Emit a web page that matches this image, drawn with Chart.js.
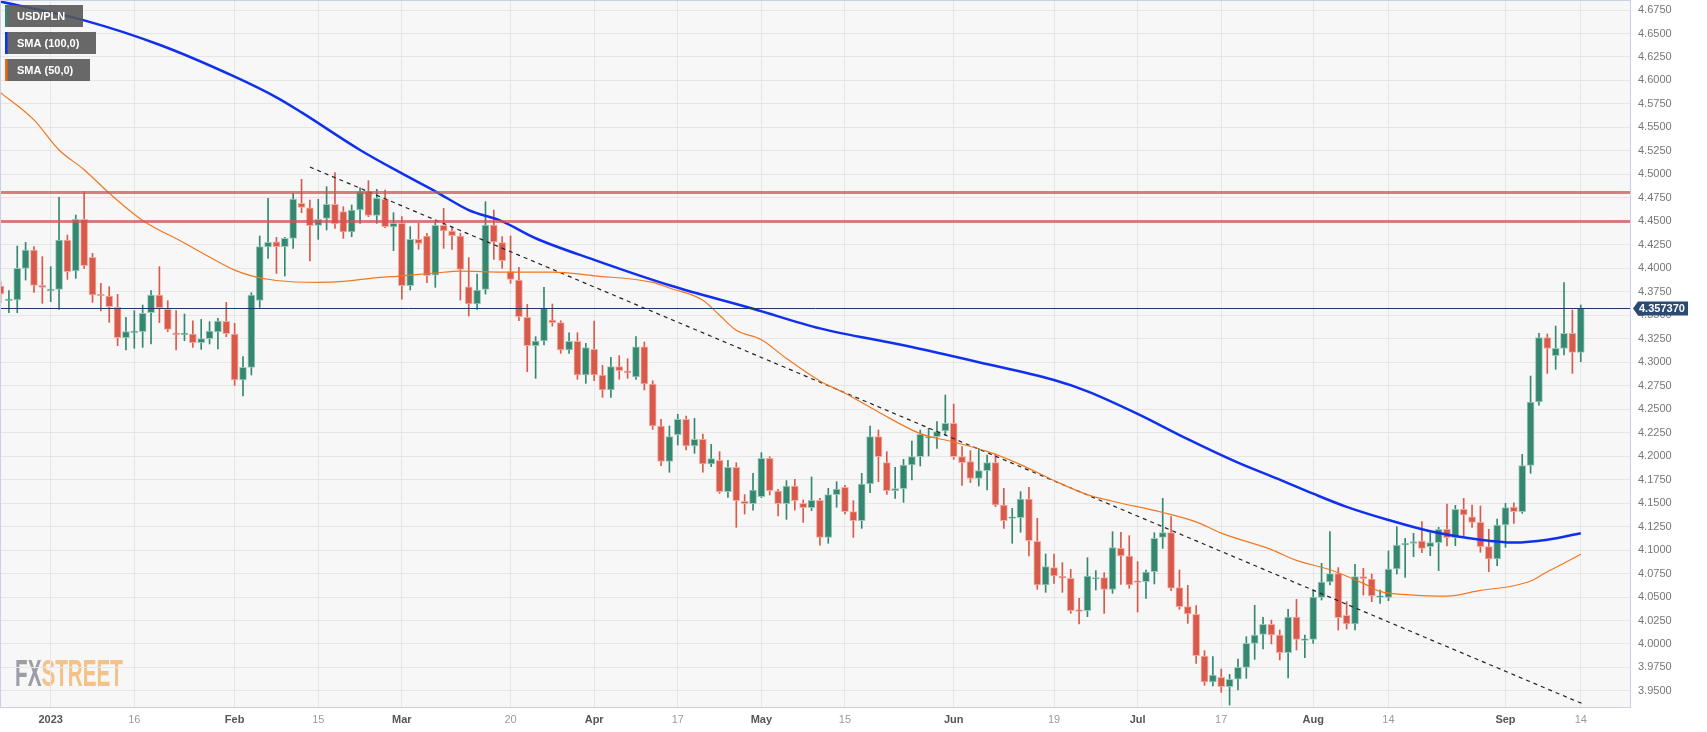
<!DOCTYPE html>
<html>
<head>
<meta charset="utf-8">
<title>USD/PLN</title>
<script src="https://cdn.jsdelivr.net/npm/chart.js@4.4.0/dist/chart.umd.min.js"></script>
<style>
  html, body { margin: 0; padding: 0; background: #fff; }
  #wrap { width: 1707px; height: 732px; }
</style>
</head>
<body>
<div id="wrap"><canvas id="chart" width="1707" height="732"></canvas></div>
<script>
/* USD/PLN daily candles, index 0 = Fri 23 Dec 2022 ... index 189 = Thu 14 Sep 2023 */

const open = [
  4.3811, 4.3655, 4.3662, 4.3999, 4.4195, 4.3819, 4.3762, 4.3776, 4.4301, 4.3971,
  4.4521, 4.4117, 4.3723, 4.3705, 4.3584, 4.3261, 4.3315, 4.3325, 4.3527, 4.3716,
  4.3563, 4.3304, 4.3293, 4.3300, 4.3208, 4.3251, 4.3322, 4.3435, 4.3300, 4.2811,
  4.2945, 4.3659, 4.4227, 4.4283, 4.4230, 4.4319, 4.4692, 4.4645, 4.4457, 4.4532,
  4.4681, 4.4603, 4.4386, 4.4621, 4.4816, 4.4564, 4.4734, 4.4440, 4.4479, 4.3815,
  4.4308, 4.4344, 4.3928, 4.4457, 4.4397, 4.4344, 4.3804, 4.3620, 4.3776, 4.4461,
  4.4273, 4.3964, 4.3875, 4.3478, 4.3176, 4.3226, 4.3449, 4.3421, 4.3130, 4.3222,
  4.2864, 4.3137, 4.2864, 4.2704, 4.2953, 4.2906, 4.2843, 4.3165, 4.2768, 4.2321,
  4.1945, 4.2228, 4.2392, 4.2108, 4.2179, 4.1916, 4.1955, 4.1622, 4.1881, 4.1519,
  4.1494, 4.1568, 4.1977, 4.1629, 4.1494, 4.1682, 4.1497, 4.1451, 4.1529, 4.1135,
  4.1590, 4.1668, 4.1409, 4.1313, 4.1703, 4.2207, 4.1931, 4.1632, 4.1654, 4.1906,
  4.1994, 4.2193, 4.2207, 4.2268, 4.2349, 4.1994, 4.1941, 4.1764, 4.1845, 4.1931,
  4.1480, 4.1338, 4.1345, 4.1544, 4.1093, 4.0628, 4.0813, 4.0713, 4.0699, 4.0355,
  4.0355, 4.0692, 4.0706, 4.0582, 4.1018, 4.0937, 4.0663, 4.0663, 4.0770, 4.1135,
  4.1185, 4.0600, 4.0397, 4.0316, 3.9872, 3.9595, 3.9645, 3.9546, 3.9624, 3.9751,
  4.0007, 4.0103, 4.0209, 4.0096, 3.9908, 4.0287, 4.0039, 4.0049, 4.0497, 4.0660,
  4.0749, 4.0305, 4.0213, 4.0717, 4.0692, 4.0497, 4.0497, 4.0798, 4.1054, 4.1072,
  4.1096, 4.1036, 4.1079, 4.1221, 4.1132, 4.1434, 4.1355, 4.1295, 4.1036, 4.0905,
  4.1267, 4.1458, 4.1409, 4.1902, 4.2576, 4.3261, 4.3070, 4.3148, 4.3307, 4.3105
];
const high = [
  4.3858, 4.3762, 4.4237, 4.4276, 4.4230, 4.4124, 4.4017, 4.4755, 4.4354, 4.4567,
  4.4816, 4.4159, 4.3840, 4.3804, 4.3723, 4.3478, 4.3549, 4.3609, 4.3762, 4.4017,
  4.3655, 4.3549, 4.3513, 4.3442, 4.3456, 4.3432, 4.3467, 4.3637, 4.3414, 4.3059,
  4.3740, 4.4344, 4.4745, 4.4330, 4.4330, 4.4798, 4.4947, 4.4727, 4.4734, 4.4869,
  4.5018, 4.4656, 4.4674, 4.4858, 4.4933, 4.4841, 4.4833, 4.4592, 4.4550, 4.4443,
  4.4479, 4.4372, 4.4503, 4.4638, 4.4432, 4.4372, 4.4113, 4.3939, 4.4709, 4.4621,
  4.4337, 4.4344, 4.4010, 4.3616, 4.3272, 4.3797, 4.3620, 4.3442, 4.3314, 4.3314,
  4.3201, 4.3439, 4.2967, 4.3052, 4.3070, 4.3038, 4.3272, 4.3215, 4.2803, 4.2392,
  4.2321, 4.2445, 4.2427, 4.2402, 4.2236, 4.2126, 4.2048, 4.1955, 4.1930, 4.1590,
  4.1817, 4.2037, 4.1994, 4.1646, 4.1739, 4.1753, 4.1533, 4.1778, 4.1551, 4.1657,
  4.1728, 4.1689, 4.1526, 4.1817, 4.2321, 4.2278, 4.2048, 4.1881, 4.1966, 4.2161,
  4.2278, 4.2296, 4.2367, 4.2651, 4.2555, 4.2101, 4.2058, 4.2083, 4.2012, 4.2023,
  4.1657, 4.1444, 4.1622, 4.1668, 4.1338, 4.0958, 4.0958, 4.0866, 4.0795, 4.0486,
  4.0919, 4.0781, 4.0759, 4.1196, 4.1189, 4.1153, 4.0876, 4.0788, 4.1185, 4.1551,
  4.1356, 4.0788, 4.0624, 4.0408, 3.9929, 3.9865, 3.9734, 3.9677, 3.9840, 4.0078,
  4.0412, 4.0284, 4.0255, 4.0149, 4.0369, 4.0475, 4.0096, 4.0575, 4.0859, 4.1196,
  4.0813, 4.0450, 4.0848, 4.0805, 4.0745, 4.0575, 4.0990, 4.1249, 4.1125, 4.1178,
  4.1302, 4.1185, 4.1242, 4.1490, 4.1476, 4.1551, 4.1480, 4.1469, 4.1221, 4.1331,
  4.1497, 4.1504, 4.2019, 4.2853, 4.3307, 4.3300, 4.3385, 4.3847, 4.3556, 4.3609
];
const low = [
  4.3634, 4.3527, 4.3527, 4.3875, 4.3744, 4.3627, 4.3645, 4.3563, 4.3882, 4.3893,
  4.3999, 4.3637, 4.3545, 4.3425, 4.3176, 4.3130, 4.3148, 4.3158, 4.3194, 4.3421,
  4.3325, 4.3130, 4.3229, 4.3158, 4.3137, 4.3194, 4.3141, 4.3272, 4.2754, 4.2640,
  4.2864, 4.3584, 4.4106, 4.3946, 4.3918, 4.4212, 4.4592, 4.4078, 4.4308, 4.4408,
  4.4425, 4.4319, 4.4337, 4.4479, 4.4550, 4.4479, 4.4432, 4.4188, 4.3670, 4.3769,
  4.4202, 4.3847, 4.3797, 4.4212, 4.4202, 4.3662, 4.3492, 4.3563, 4.3726, 4.4095,
  4.3999, 4.3840, 4.3442, 4.2899, 4.2828, 4.3183, 4.3385, 4.3094, 4.3094, 4.2818,
  4.2775, 4.2803, 4.2626, 4.2626, 4.2818, 4.2828, 4.2818, 4.2704, 4.2285, 4.1898,
  4.1828, 4.2118, 4.2065, 4.2030, 4.1828, 4.1888, 4.1604, 4.1561, 4.1242, 4.1384,
  4.1426, 4.1558, 4.1586, 4.1363, 4.1327, 4.1426, 4.1295, 4.1419, 4.1053, 4.1072,
  4.1455, 4.1384, 4.1135, 4.1231, 4.1611, 4.1728, 4.1593, 4.1551, 4.1508, 4.1746,
  4.1895, 4.2002, 4.2083, 4.2225, 4.1966, 4.1689, 4.1718, 4.1682, 4.1640, 4.1462,
  4.1231, 4.1072, 4.1189, 4.0937, 4.0582, 4.0550, 4.0646, 4.0550, 4.0326, 4.0213,
  4.0291, 4.0575, 4.0326, 4.0539, 4.0635, 4.0593, 4.0340, 4.0486, 4.0639, 4.1018,
  4.0568, 4.0369, 4.0220, 3.9794, 3.9560, 3.9553, 3.9485, 3.9350, 3.9510, 3.9634,
  3.9837, 3.9947, 4.0000, 3.9830, 3.9638, 3.9936, 3.9854, 4.0007, 4.0468, 4.0628,
  4.0149, 4.0160, 4.0149, 4.0521, 4.0451, 4.0433, 4.0461, 4.0745, 4.0709, 4.0930,
  4.0972, 4.0940, 4.0781, 4.1043, 4.1047, 4.1143, 4.1242, 4.0976, 4.0770, 4.0834,
  4.1029, 4.1284, 4.1391, 4.1817, 4.2544, 4.2881, 4.2924, 4.3077, 4.2881, 4.3006
];
const close = [
  4.3726, 4.3670, 4.3999, 4.4195, 4.3819, 4.3797, 4.3772, 4.4301, 4.3964, 4.4521,
  4.4028, 4.3716, 4.3708, 4.3591, 4.3261, 4.3325, 4.3325, 4.3520, 4.3716, 4.3581,
  4.3350, 4.3293, 4.3304, 4.3208, 4.3251, 4.3332, 4.3439, 4.3304, 4.2811, 4.2945,
  4.3716, 4.4230, 4.4276, 4.4230, 4.4319, 4.4738, 4.4649, 4.4454, 4.4521, 4.4681,
  4.4472, 4.4386, 4.4621, 4.4816, 4.4564, 4.4745, 4.4443, 4.4479, 4.3815, 4.4308,
  4.4266, 4.3921, 4.4457, 4.4397, 4.4347, 4.3989, 4.3620, 4.3769, 4.4461, 4.4280,
  4.4081, 4.3882, 4.3485, 4.3176, 4.3226, 4.3574, 4.3421, 4.3130, 4.3222, 4.2864,
  4.3155, 4.2864, 4.2704, 4.2953, 4.2910, 4.2889, 4.3165, 4.2768, 4.2321, 4.1945,
  4.2207, 4.2392, 4.2108, 4.2179, 4.1916, 4.1973, 4.1622, 4.1881, 4.1526, 4.1494,
  4.1639, 4.1977, 4.1632, 4.1494, 4.1682, 4.1526, 4.1451, 4.1529, 4.1135, 4.1590,
  4.1650, 4.1409, 4.1313, 4.1703, 4.2207, 4.1994, 4.1632, 4.1654, 4.1906, 4.1994,
  4.2232, 4.2207, 4.2261, 4.2349, 4.1994, 4.1931, 4.1764, 4.1845, 4.1931, 4.1480,
  4.1313, 4.1345, 4.1544, 4.1100, 4.0628, 4.0823, 4.0724, 4.0703, 4.0355, 4.0348,
  4.0724, 4.0703, 4.0582, 4.1026, 4.0937, 4.0628, 4.0656, 4.0766, 4.1125, 4.1185,
  4.0593, 4.0397, 4.0319, 3.9876, 3.9595, 3.9670, 3.9546, 3.9624, 3.9751, 4.0007,
  4.0096, 4.0209, 4.0096, 3.9908, 4.0287, 4.0049, 4.0046, 4.0500, 4.0660, 4.0749,
  4.0280, 4.0213, 4.0717, 4.0695, 4.0511, 4.0511, 4.0798, 4.1054, 4.1072, 4.1089,
  4.1018, 4.1079, 4.1221, 4.1132, 4.1434, 4.1373, 4.1295, 4.1036, 4.0905, 4.1267,
  4.1451, 4.1409, 4.1899, 4.2576, 4.3261, 4.3148, 4.3148, 4.3307, 4.3105, 4.35737
];

/* moving averages at these day indices */
const sma100Idx = [0, 10, 19, 28, 33, 36, 43, 48, 52, 56, 60, 64, 71, 80, 90, 98, 108, 117, 126, 130, 136, 142, 148, 153, 157, 161, 166, 171, 177, 181, 185, 189];
const sma100 = [4.684, 4.664, 4.638, 4.604, 4.582, 4.566, 4.526, 4.501, 4.482, 4.462, 4.450, 4.432, 4.409, 4.382, 4.357, 4.336, 4.318, 4.300, 4.281, 4.269, 4.245, 4.218, 4.193, 4.175, 4.160, 4.146, 4.132, 4.120, 4.111, 4.108, 4.111, 4.118];

const sma50Idx = [0, 4, 7, 10, 13, 17, 22, 25, 28, 30, 33, 38, 41, 44, 48, 52, 55, 60, 66, 71, 78, 80, 84, 86, 88, 91, 94, 98, 101, 105, 110, 114, 118, 122, 126, 130, 133, 139, 143, 146, 152, 155, 159, 163, 165, 169, 173, 177, 181, 183, 185, 187, 189];
const sma50 = [4.587, 4.558, 4.526, 4.505, 4.480, 4.451, 4.427, 4.412, 4.398, 4.392, 4.387, 4.385, 4.386, 4.389, 4.392, 4.395, 4.397, 4.396, 4.396, 4.392, 4.385, 4.379, 4.366, 4.350, 4.334, 4.324, 4.304, 4.280, 4.267, 4.247, 4.224, 4.215, 4.205, 4.191, 4.174, 4.159, 4.152, 4.140, 4.130, 4.118, 4.1005, 4.089, 4.079, 4.0645, 4.056, 4.052, 4.051, 4.057, 4.062, 4.067, 4.077, 4.086, 4.0955];

const trendIdx = [37, 189.3];
const trendVal = [4.5078, 3.936];

const levels = [4.4815, 4.45];
const lastPrice = 4.35737;

const tickIdx = [6, 16, 28, 38, 48, 61, 71, 81, 91, 101, 114, 126, 136, 146, 157, 166, 180, 189];
const tickLabels = ["2023", "16", "Feb", "15", "Mar", "20", "Apr", "17", "May", "15", "Jun", "19", "Jul", "17", "Aug", "14", "Sep", "14"];
const tickBold = [true, false, true, false, true, false, true, false, true, false, true, false, true, false, true, false, true, false];

const yTicks = [3.95, 3.975, 4.0, 4.025, 4.05, 4.075, 4.1, 4.125, 4.15, 4.175, 4.2, 4.225, 4.25, 4.275, 4.3,
  4.325, 4.35, 4.375, 4.4, 4.425, 4.45, 4.475, 4.5, 4.525, 4.55, 4.575, 4.6, 4.625, 4.65, 4.675];

const UP = '#35876f', DOWN = '#d85a4a';
const UP_EDGE = 'rgba(150,200,185,0.95)', DOWN_EDGE = 'rgba(244,170,160,0.95)';
const FONT = "'Liberation Sans', Arial, sans-serif";

const isUp = open.map((o, i) => close[i] >= o);
const wicks = open.map((o, i) => ({ x: i, y: [low[i], high[i]] }));
const bodies = open.map((o, i) => ({ x: i, y: [o, close[i]] }));

const boldTick = c => {
  if (!c || !c.tick) return false;
  const k = tickIdx.indexOf(c.tick.value);
  return k >= 0 && tickBold[k];
};

const chartBack = {
  id: 'chartBack',
  beforeDraw(chart) {
    const { ctx, chartArea: a } = chart;
    ctx.save();
    ctx.fillStyle = '#ffffff';
    ctx.fillRect(0, 0, chart.width, chart.height);
    ctx.fillStyle = '#f7f7f7';
    ctx.fillRect(a.left, a.top, a.right - a.left, a.bottom - a.top);

    // watermark
    ctx.font = 'bold 36px ' + FONT;
    const wFX = ctx.measureText('FX').width;
    const wAll = ctx.measureText('FXSTREET').width;
    ctx.translate(15, 686);
    ctx.scale(108 / wAll, 1);
    ctx.textBaseline = 'alphabetic';
    ctx.fillStyle = '#9c9ea6';
    ctx.fillText('FX', 0, 0);
    ctx.fillStyle = '#f2c288';
    ctx.fillText('STREET', wFX, 0);
    ctx.restore();
  }
};

const levelLines = {
  id: 'levelLines',
  afterDatasetsDraw(chart) {
    const { ctx, chartArea: a, scales: { y } } = chart;
    ctx.save();
    ctx.strokeStyle = 'rgba(205,85,85,0.75)';
    ctx.lineWidth = 3;
    levels.forEach(v => {
      const py = Math.round(y.getPixelForValue(v)) + 0.5;
      ctx.beginPath();
      ctx.moveTo(a.left, py);
      ctx.lineTo(a.right, py);
      ctx.stroke();
    });
    const pp = Math.round(y.getPixelForValue(lastPrice)) + 0.5;
    ctx.strokeStyle = '#1f3a60';
    ctx.lineWidth = 1;
    ctx.beginPath();
    ctx.moveTo(a.left, pp);
    ctx.lineTo(a.right, pp);
    ctx.stroke();
    ctx.restore();
  }
};

const decorations = {
  id: 'decorations',
  afterDraw(chart) {
    const { ctx, chartArea: a, scales: { y } } = chart;
    ctx.save();
    // frame
    ctx.strokeStyle = '#c9d1e3';
    ctx.lineWidth = 1;
    ctx.strokeRect(a.left - 0.5, a.top - 0.5, a.right - a.left + 1, a.bottom - a.top + 1);

    // last price tag
    const pp = Math.round(y.getPixelForValue(lastPrice)) + 0.5;
    ctx.fillStyle = '#2b4a72';
    ctx.beginPath();
    ctx.moveTo(a.right + 3, pp);
    ctx.lineTo(a.right + 8, pp - 7);
    ctx.lineTo(a.right + 58, pp - 7);
    ctx.lineTo(a.right + 58, pp + 7);
    ctx.lineTo(a.right + 8, pp + 7);
    ctx.closePath();
    ctx.fill();
    ctx.fillStyle = '#ffffff';
    ctx.font = 'bold 11px ' + FONT;
    ctx.textBaseline = 'middle';
    ctx.fillText(lastPrice.toFixed(6), a.right + 9, pp + 0.5);

    // legend boxes
    const items = [
      { text: 'USD/PLN', color: UP, w: 78 },
      { text: 'SMA (100,0)', color: '#1030f0', w: 91 },
      { text: 'SMA (50,0)', color: '#ee6a10', w: 85 }
    ];
    items.forEach((it, k) => {
      const top = 5 + k * 27;
      ctx.fillStyle = 'rgba(88,88,88,0.9)';
      ctx.fillRect(5, top, it.w, 22);
      ctx.fillStyle = it.color;
      ctx.fillRect(5, top, 2.5, 22);
      ctx.fillStyle = '#ffffff';
      ctx.font = 'bold 11px ' + FONT;
      ctx.textBaseline = 'middle';
      ctx.fillText(it.text, 17, top + 11.5);
    });
    ctx.restore();
  }
};

new Chart(document.getElementById('chart'), {
  data: {
    datasets: [
      {
        type: 'line',
        label: 'SMA (100,0)',
        data: sma100Idx.map((d, k) => ({ x: d, y: sma100[k] })),
        borderColor: '#1030f0',
        borderWidth: 2.5,
        pointRadius: 0,
        cubicInterpolationMode: 'monotone',
        order: 0
      },
      {
        type: 'line',
        label: 'SMA (50,0)',
        data: sma50Idx.map((d, k) => ({ x: d, y: sma50[k] })),
        borderColor: '#f07820',
        borderWidth: 1.2,
        pointRadius: 0,
        cubicInterpolationMode: 'monotone',
        order: 0
      },
      {
        type: 'line',
        label: 'trend',
        data: trendIdx.map((d, k) => ({ x: d, y: trendVal[k] })),
        borderColor: '#222222',
        borderWidth: 1.2,
        borderDash: [4, 4],
        pointRadius: 0,
        order: 0
      },
      {
        type: 'bar',
        label: 'body',
        data: bodies,
        backgroundColor: isUp.map(u => u ? UP : DOWN),
        borderColor: isUp.map(u => u ? UP_EDGE : DOWN_EDGE),
        borderWidth: 1,
        borderSkipped: false,
        barThickness: 7,
        minBarLength: 1.5,
        grouped: false,
        clip: 0,
        order: 1
      },
      {
        type: 'bar',
        label: 'wick',
        data: wicks,
        backgroundColor: isUp.map(u => u ? UP : DOWN),
        borderWidth: 0,
        barThickness: 1,
        grouped: false,
        clip: 0,
        order: 2
      }
    ]
  },
  options: {
    responsive: false,
    animation: false,
    events: [],
    layout: { padding: { left: 1, top: 1, right: 0, bottom: 0 } },
    plugins: { legend: { display: false }, tooltip: { enabled: false } },
    scales: {
      x: {
        type: 'linear',
        offset: false,
        min: 0.056,
        max: 194.89,
        afterBuildTicks: s => { s.ticks = tickIdx.map(v => ({ value: v })); },
        afterFit: s => { s.height = 25; s.paddingLeft = 0; s.paddingRight = 0; },
        grid: { color: '#e6e6e6', drawTicks: false, offset: false },
        border: { display: false },
        ticks: {
          autoSkip: false,
          maxRotation: 0,
          padding: 6,
          callback: v => { const k = tickIdx.indexOf(v); return k >= 0 ? tickLabels[k] : ''; },
          color: c => boldTick(c) ? '#555555' : '#9a9a9a',
          font: c => ({ family: FONT, size: 11, weight: boldTick(c) ? 'bold' : 'normal' })
        }
      },
      y: {
        type: 'linear',
        position: 'right',
        min: 3.9329,
        max: 4.6846,
        afterBuildTicks: s => { s.ticks = yTicks.map(v => ({ value: v })); },
        afterFit: s => { s.width = 77; s.paddingTop = 0; s.paddingBottom = 0; },
        grid: { color: '#e6e6e6', drawTicks: false },
        border: { display: false },
        ticks: {
          padding: 8,
          color: '#777777',
          font: { family: FONT, size: 11 },
          callback: v => v.toFixed(4)
        }
      }
    }
  },
  plugins: [chartBack, levelLines, decorations]
});
</script>
</body>
</html>
